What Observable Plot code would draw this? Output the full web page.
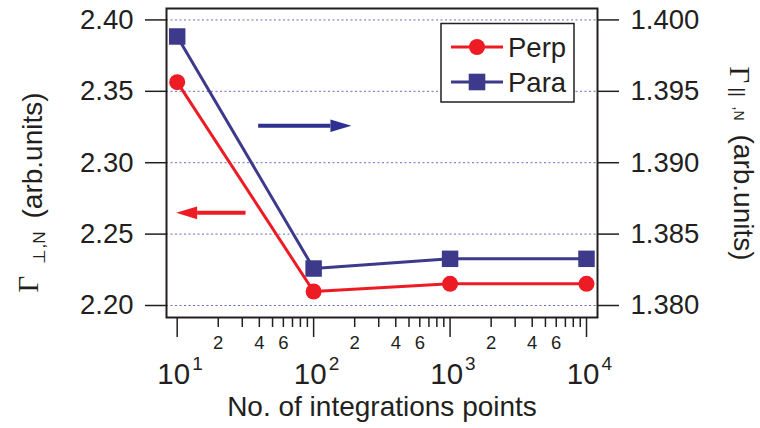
<!DOCTYPE html>
<html><head><meta charset="utf-8">
<script src="https://cdn.jsdelivr.net/npm/d3@7"></script>
<script src="https://cdn.jsdelivr.net/npm/@observablehq/plot@0.6"></script>
<style>
body{margin:0;background:#fff}
#wrap{position:relative;width:760px;height:428px}
#wrap svg{position:absolute;left:0;top:0}
</style>
</head><body><div id="wrap"></div>
<script>
// ---- data ----
const points = [10, 100, 1000, 10000];
const perp = [2.3564, 2.2098, 2.2152, 2.2152];        // left axis
const para = [1.39884, 1.38259, 1.38327, 1.38327];    // right axis
const leftTicks = [2.20, 2.25, 2.30, 2.35, 2.40];
const decades = [10, 100, 1000, 10000];
const exponents = ["1", "2", "3", "4"];
const minorMultipliers = [2, 3, 4, 5, 6, 7, 8, 9];
const labelledMultipliers = [2, 4, 6];
const seriesNames = ["Perp", "Para"];
// annotation arrows (data units on the left axis)
const arrowTailX = [39.2, 31.7];
const arrowHeadX = [132.8, 14.0];
const arrowY = [2.3259, 2.2649];
const arrowRotate = [0, 180];

const RED = "#ed1c24", BLUE = "#3d3a8c", ARROWBLUE = "#2e3192", INK = "#231f20";
const toLeft = v => 2.20 + (v - 1.380) * 10;
const toRight = v => 1.380 + (v - 2.20) / 10;

const perpData = points.map((x, i) => ({x, y: perp[i]}));
const paraData = points.map((x, i) => ({x, y: toLeft(para[i])}));
const minorTicks = decades.slice(0, 3).flatMap(d => minorMultipliers.map(m => m * d));
const minorLabels = decades.slice(0, 3).flatMap(d => labelledMultipliers.map(m => ({x: m * d, t: String(m)})));
const arrows = arrowTailX.map((t, i) => ({x1: t, x2: arrowHeadX[i], y: arrowY[i], rot: arrowRotate[i], c: i === 0 ? ARROWBLUE : RED}));

const arrowHead = {draw(ctx) { ctx.moveTo(0, -6.3); ctx.lineTo(21, 0); ctx.lineTo(0, 6.3); ctx.closePath(); }};

const SANS = "'Liberation Sans', Arial, Helvetica, sans-serif";
const SERIF = "'Liberation Serif', 'DejaVu Serif', serif";
const T = (txt, o) => Plot.text([txt], {textAnchor: "start", lineAnchor: "bottom", fill: INK, ...o});

const chart = Plot.plot({
  width: 760, height: 428,
  marginLeft: 166, marginRight: 163, marginTop: 8, marginBottom: 111,
  style: {fontFamily: SANS, color: INK, background: "#fff", overflow: "visible"},
  x: {type: "log", domain: [8.35, 12038]},
  y: {domain: [2.1916, 2.408]},
  marks: [
    Plot.gridY(leftTicks, {stroke: "#6a6ac4", strokeOpacity: 1, strokeWidth: 1, strokeDasharray: "2,2.5"}),
    Plot.link(arrows, {x1: "x1", x2: "x2", y1: "y", y2: "y", stroke: "c", strokeWidth: 4}),
    Plot.dot(arrows, {x: "x2", y: "y", fill: "c", symbol: arrowHead, rotate: "rot", r: 5}),
    Plot.line(paraData, {x: "x", y: "y", stroke: BLUE, strokeWidth: 3}),
    Plot.line(perpData, {x: "x", y: "y", stroke: RED, strokeWidth: 3}),
    Plot.dot(paraData, {x: "x", y: "y", symbol: "square", r: 9.3, fill: BLUE}),
    Plot.dot(perpData, {x: "x", y: "y", symbol: "circle", r: 8, fill: RED}),
    Plot.axisY({anchor: "left", ticks: leftTicks, tickSize: 21, tickPadding: 12, tickFormat: d => d.toFixed(2), fontSize: 27.5, label: null, stroke: INK, strokeWidth: 1.5}),
    Plot.axisY({anchor: "right", ticks: leftTicks, tickSize: 21, tickPadding: 12, tickFormat: d => toRight(d).toFixed(3), fontSize: 27.5, label: null, stroke: INK, strokeWidth: 1.5}),
    Plot.axisX({ticks: decades, tickSize: 20, tickFormat: () => "", label: null, stroke: INK, strokeWidth: 1.5}),
    Plot.axisX({ticks: minorTicks, tickSize: 10, tickFormat: () => "", label: null, stroke: INK, strokeWidth: 1.5}),
    Plot.text(minorLabels, {x: "x", text: "t", frameAnchor: "bottom", lineAnchor: "top", dy: 18, fontSize: 18.5, fill: INK}),
    Plot.text(decades, {x: d => d, text: () => "10", frameAnchor: "bottom", lineAnchor: "bottom", textAnchor: "end", dx: 13, dy: 66, fontSize: 29.5, fill: INK}),
    Plot.text(decades, {x: d => d, text: exponents, frameAnchor: "bottom", lineAnchor: "bottom", textAnchor: "start", dx: 15, dy: 52, fontSize: 19, fill: INK}),
    Plot.text(["No. of integrations points"], {frameAnchor: "bottom", lineAnchor: "bottom", dy: 98, fontSize: 28, fill: INK}),
    // left title (reads upward)
    T("Γ", {frameAnchor: "left", rotate: -90, dx: -129, dy: 129.5, fontSize: 29, fontFamily: SERIF}),
    T("⊥,N", {frameAnchor: "left", rotate: -90, dx: -122, dy: 100.5, fontSize: 17}),
    T("(arb.units)", {frameAnchor: "left", rotate: -90, dx: -125, dy: 55.5, fontSize: 28}),
    // right title (reads downward)
    T("Γ", {frameAnchor: "right", rotate: 90, dx: 132, dy: -96.5, fontSize: 29, fontFamily: SERIF}),
    T("||", {frameAnchor: "right", rotate: 90, dx: 134, dy: -75.5, fontSize: 18}),
    T(",N", {frameAnchor: "right", rotate: 90, dx: 136, dy: -56.5, fontSize: 14}),
    T("(arb.units)", {frameAnchor: "right", rotate: 90, dx: 136, dy: -28.5, fontSize: 28}),
    Plot.frame({stroke: INK, strokeWidth: 2})
  ]
});
const wrap = document.getElementById("wrap");
wrap.appendChild(chart);

// legend overlay
const lg = d3.select(wrap).append("svg").attr("width", 760).attr("height", 428).style("pointer-events", "none");
lg.append("rect").attr("x", 441).attr("y", 23.5).attr("width", 133).attr("height", 78.5)
  .attr("fill", "#fff").attr("stroke", INK).attr("stroke-width", 1.5);
const colors = [RED, BLUE];
const ys = [47, 82];
seriesNames.forEach((name, i) => {
  const g = lg.append("g");
  g.append("line").attr("x1", 451).attr("x2", 503).attr("y1", ys[i]).attr("y2", ys[i]).attr("stroke", colors[i]).attr("stroke-width", 3);
  if (i === 0) g.append("circle").attr("cx", 477).attr("cy", ys[i]).attr("r", 8).attr("fill", colors[i]);
  else g.append("rect").attr("x", 477 - 8.3).attr("y", ys[i] - 8.3).attr("width", 16.6).attr("height", 16.6).attr("fill", colors[i]);
  g.append("text").attr("x", 508).attr("y", ys[i] + 9.5).attr("font-family", SANS).attr("font-size", 27.5).attr("fill", INK).text(name);
});
</script>
</body></html>
